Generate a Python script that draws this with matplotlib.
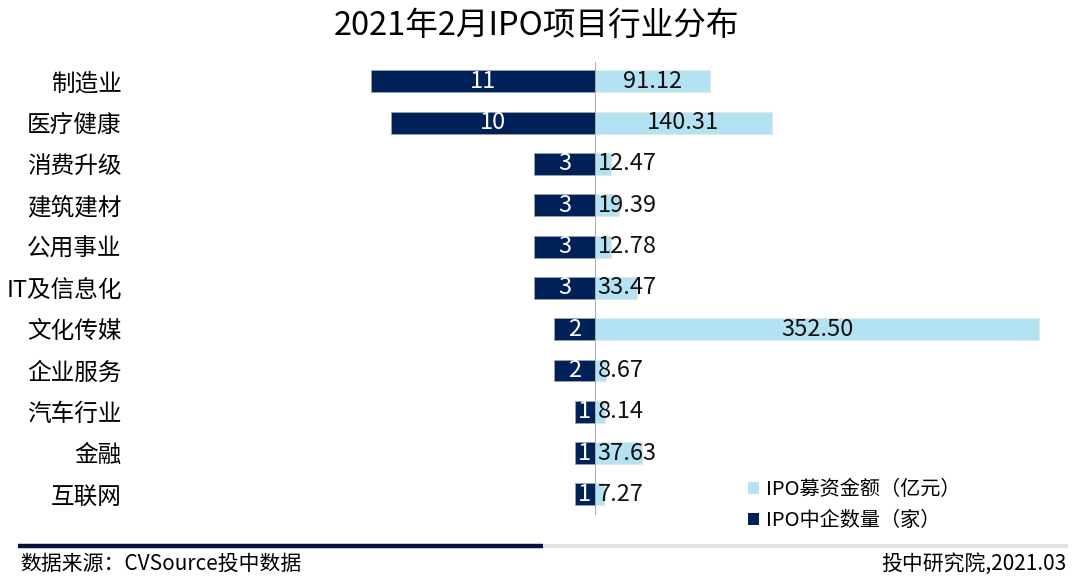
import matplotlib
matplotlib.use("Agg")
import matplotlib.pyplot as plt
from matplotlib.patches import Patch
from matplotlib.lines import Line2D

plt.rcParams["font.family"] = ["Noto Sans CJK SC", "DejaVu Sans"]
plt.rcParams["font.weight"] = 350

industries = ["制造业", "医疗健康", "消费升级", "建筑建材", "公用事业", "IT及信息化",
              "文化传媒", "企业服务", "汽车行业", "金融", "互联网"]
counts = [11, 10, 3, 3, 3, 3, 2, 2, 1, 1, 1]
amounts = [91.12, 140.31, 12.47, 19.39, 12.78, 33.47, 352.50, 8.67, 8.14, 37.63, 7.27]

NAVY = "#002157"
LIGHT = "#B3E2F3"

fig = plt.figure(figsize=(10.8, 5.82), dpi=100)
ax_l = fig.add_axes([0.1204, 0.1151, 0.4306, 0.7784])
ax_r = fig.add_axes([0.5509, 0.1151, 0.4306, 0.7784], sharey=ax_l)

ys = list(range(len(industries)))
ax_l.barh(ys, counts, height=0.53, color=NAVY, edgecolor="#9aa3b5", linewidth=0.6)
ax_r.barh(ys, amounts, height=0.53, color=LIGHT, edgecolor="#e6e6e6", linewidth=0.8)

ax_l.set_xlim(22.8, 0)
ax_r.set_xlim(0, 369)
ax_l.set_ylim(10.5, -0.47)

for y, c in zip(ys, counts):
    ax_l.text(c / 2, y, str(c), color="white", fontsize=17, ha="center", va="center")

for y, a in zip(ys, amounts):
    if a > 55:
        ax_r.text(a / 2, y, f"{a:.2f}", color="#111111", fontsize=17, ha="center", va="center")
    else:
        ax_r.text(2, y, f"{a:.2f}", color="#111111", fontsize=17, ha="left", va="center")

ax_r.axvline(0, color="#a6a6a6", lw=1.3)

for ax in (ax_l, ax_r):
    for s in ax.spines.values():
        s.set_visible(False)
    ax.set_xticks([])
ax_l.set_yticks(ys)
ax_l.set_yticklabels(industries, fontsize=17)
ax_l.tick_params(axis="y", length=0, pad=6)
ax_r.tick_params(axis="y", left=False, labelleft=False)

fig.text(0.497, 0.955, "2021年2月IPO项目行业分布", fontsize=23.5, ha="center", va="center")

handles = [Patch(facecolor=LIGHT, edgecolor="none"), Patch(facecolor=NAVY, edgecolor="none")]
fig.legend(handles, ["IPO募资金额（亿元）", "IPO中企数量（家）"], loc="center left",
           bbox_to_anchor=(0.676, 0.132), frameon=False, fontsize=14.5,
           handlelength=0.55, handleheight=0.55, handletextpad=0.35, labelspacing=0.5)

fig.add_artist(Line2D([18 / 1080, 543 / 1080], [1 - 546 / 582] * 2, color="#0a1040", lw=3.2,
                      solid_capstyle="butt"))
fig.add_artist(Line2D([543 / 1080, 1068 / 1080], [1 - 546 / 582] * 2, color="#e3e3e3", lw=2.8,
                      solid_capstyle="butt"))

fig.text(20 / 1080, 1 - 564 / 582, "数据来源：CVSource投中数据", fontsize=15, ha="left", va="center")
fig.text(1067 / 1080, 1 - 564 / 582, "投中研究院,2021.03", fontsize=15, ha="right", va="center")

fig.savefig("out.png", dpi=100)
